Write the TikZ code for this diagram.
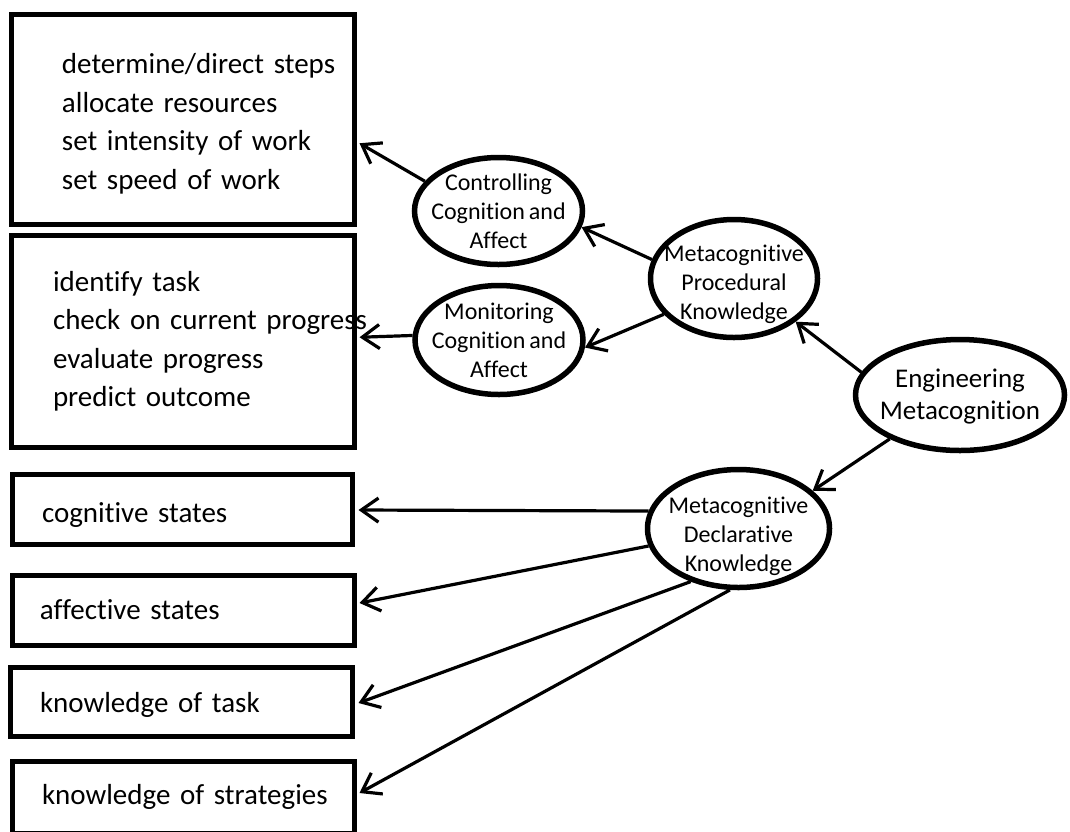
\documentclass[tikz,border=0pt]{standalone}
\usepackage{fontspec}
\setmainfont{Carlito}[Ligatures=NoCommon, WordSpace=0.75]
\usetikzlibrary{shapes.geometric,arrows.meta}
\newcommand\rowtxt[2]{\hspace*{#1}\mbox{#2}}
\newcommand\toppad[1]{\rule{0pt}{#1}}
\begin{document}
\begin{tikzpicture}[x=1pt,y=-1pt,
  box/.style={draw, line width=5pt, rectangle, inner xsep=0pt, inner ysep=0pt,
    align=left, font=\fontsize{29}{38.5}\selectfont},
  ell/.style={draw, line width=5.5pt, ellipse, inner sep=-30pt, align=center,
    font=\fontsize{24}{29}\selectfont},
  arr/.style={line width=3.2pt, -{Straight Barb[angle=70:21pt]}}]
\useasboundingbox (0,0) rectangle (1070,831);
\fill[white] (0,0) rectangle (1070,831);
\clip (0,0) rectangle (1070,831);

% boxes
\node[box, text width=343pt, minimum width=343pt, minimum height=210.5pt] (b1) at (182.5,119.25)
  {\toppad{29pt}\rowtxt{51pt}{determine/direct steps}\\\rowtxt{51pt}{allocate resources}\\\rowtxt{51pt}{set intensity of work}\\\rowtxt{51pt}{set speed of work}};
\node[box, text width=343pt, minimum width=343pt, minimum height=211.5pt] (b2) at (182.5,341.25)
  {\rowtxt{42pt}{identify task}\\\rowtxt{42pt}{check on current progress}\\\rowtxt{42pt}{evaluate progress}\\\rowtxt{42pt}{predict outcome}};
\node[box, text width=340pt, minimum width=340pt, minimum height=70pt] (b3) at (182,509)
  {\toppad{32pt}\rowtxt{30pt}{cognitive states}};
\node[box, text width=342pt, minimum width=342pt, minimum height=70pt] (b4) at (183,610)
  {\rowtxt{28pt}{affective states}};
\node[box, text width=342pt, minimum width=342pt, minimum height=69pt] (b5) at (181,701.5)
  {\toppad{26.5pt}\rowtxt{30pt}{knowledge of task}};
\node[box, text width=342pt, minimum width=342pt, minimum height=72pt] (b6) at (183,797)
  {\rowtxt{30pt}{knowledge of strategies}};

% ellipses
\node[ell, minimum width=168pt, minimum height=107pt] (ctrl) at (498.5,211) {Controlling\\Cognition and\\Affect};
\node[ell, minimum width=168pt, minimum height=109pt] (mon) at (499,340) {Monitoring\\Cognition and\\Affect};
\node[ell, minimum width=167pt, minimum height=118pt] (mpk) at (734,278.5) {\toppad{28pt}Metacognitive\\Procedural\\Knowledge};
\node[ell, minimum width=209pt, minimum height=111pt, font=\fontsize{27}{32}\selectfont] (eng) at (960,395) {\toppad{22pt}Engineering\\Metacognition};
\node[ell, minimum width=182pt, minimum height=118pt] (mdk) at (738.5,528.5) {\toppad{32pt}Metacognitive\\Declarative\\Knowledge};

% connectors
\draw[arr] (ctrl.158) -- ([shift={(3,24)}]b1.east);
\draw[arr] (mon.177) -- ([shift={(3,-4)}]b2.east);
\draw[arr] (mpk.167) -- (ctrl.-11);
\draw[arr] (mpk.-153) -- (mon.-5);
\draw[arr] (eng.167) -- (mpk.-35);
\draw[arr] (eng.-148) -- (mdk.27);
\draw[arr] (mdk.169) -- ([shift={(4,1)}]b3.east);
\draw[arr] (mdk.191) -- ([shift={(3,-7)}]b4.east);
\draw[arr] (mdk.228) -- ([shift={(4,1.5)}]b5.east);
\draw[arr] (mdk.262) -- ([shift={(3,-4)}]b6.east);
\end{tikzpicture}
\end{document}
